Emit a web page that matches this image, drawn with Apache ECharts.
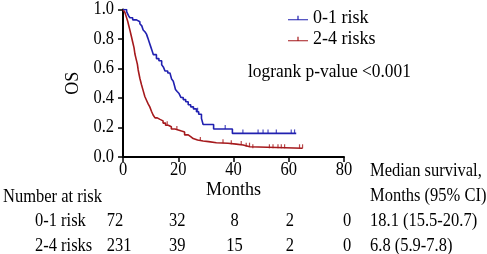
<!DOCTYPE html>
<html>
<head>
<meta charset="utf-8">
<script src="https://cdn.jsdelivr.net/npm/echarts@6/dist/echarts.min.js"></script>
<style>
  html, body { margin: 0; padding: 0; background: #fff; }
  #chart { width: 487px; height: 254px; }
</style>
</head>
<body>
<div id="chart"></div>
<script>
// survival curves (months, OS)
var lowTimes = [0, 1.3, 2, 2.5, 3.5, 4.9, 6.1, 6.8, 7.3, 8, 8.5, 9, 9.5, 10, 10.5, 11, 12.1, 13, 14, 14.6, 15.2, 16.2, 17, 17.6, 18.2, 18.6, 19, 19.6, 20.3, 21, 21.8, 22.7, 23.6, 24.5, 25.5, 26.6, 27.4, 28.4, 29, 32.8, 39.6, 62.7];
var lowSurv = [1.0, 0.986, 0.958, 0.944, 0.93, 0.917, 0.903, 0.889, 0.861, 0.847, 0.833, 0.806, 0.778, 0.75, 0.722, 0.694, 0.667, 0.653, 0.625, 0.611, 0.583, 0.569, 0.556, 0.528, 0.514, 0.486, 0.458, 0.444, 0.43, 0.403, 0.389, 0.375, 0.354, 0.34, 0.326, 0.307, 0.29, 0.262, 0.22, 0.19, 0.16, 0.16];
var highTimes = [0, 0.7, 1.2, 1.7, 2.1, 2.5, 3, 3.5, 4, 4.3, 4.8, 5.2, 5.5, 6.1, 6.7, 7.3, 7.9, 8.5, 9.1, 9.7, 10.3, 10.9, 11.6, 12.4, 13.4, 14.5, 15.4, 16.4, 17.5, 18.8, 20, 21.2, 22.3, 23.6, 24.5, 25.4, 27, 29, 31, 33.8, 38, 41, 43.5, 45.9, 65];
var highSurv = [1.0, 0.98, 0.95, 0.92, 0.89, 0.86, 0.82, 0.78, 0.74, 0.70, 0.66, 0.63, 0.59, 0.534, 0.49, 0.45, 0.41, 0.385, 0.36, 0.34, 0.31, 0.285, 0.265, 0.255, 0.245, 0.23, 0.215, 0.205, 0.19, 0.183, 0.176, 0.17, 0.15, 0.138, 0.125, 0.115, 0.108, 0.104, 0.097, 0.093, 0.087, 0.081, 0.07, 0.059, 0.059];
// censored observations (months)
var lowCensor = [27, 37, 43.4, 48.9, 50.7, 52.5, 55.5, 60.9, 62.1];
var highCensor = [16, 19.5, 28, 36.2, 39.2, 42.8, 44.6, 45.8, 47, 53, 54.3, 56.1, 57.3, 58.5, 63.9, 65];

var groupNames = ['0-1 risk', '2-4 risks'];
var xTicks = [0, 20, 40, 60, 80];
var yTicks = [0, 0.2, 0.4, 0.6, 0.8, 1.0];
var lowAtRisk = [72, 32, 8, 2, 0];
var highAtRisk = [231, 39, 15, 2, 0];
var medianText = ['18.1 (15.5-20.7)', '6.8 (5.9-7.8)'];

var blue = '#2020b0';
var red = '#a5191c';
var font = 'Liberation Serif';

function zip(t, s) {
	var out = [];
	for (var i = 0; i < t.length; i++) out.push([t[i], s[i]]);
	return out;
}
function survAt(t, times, surv) {
	var v = surv[0];
	for (var i = 0; i < times.length; i++) {
		if (times[i] <= t) v = surv[i];
	}
	return v;
}
function censorPts(c, times, surv) {
	return c.map(function (t) { return [t, survAt(t, times, surv)]; });
}

var tickMark = 'path://M0,0L1,0L1,1L0,1Z';

var myChart = echarts.init(document.getElementById('chart'));
var option = {
	animation: false,
	textStyle: { fontFamily: font },
	grid: { left: 123, right: 143, top: 9.5, bottom: 97 },
	legend: {
		data: groupNames,
		orient: 'vertical',
		left: 283,
		top: 4,
		itemWidth: 20,
		itemHeight: 6,
		itemGap: 3,
		icon: 'path://M0,5L20,5L20,6.2L0,6.2Z M9.4,1.5L10.6,1.5L10.6,5L9.4,5Z',
		textStyle: { fontFamily: font, fontSize: 18, color: '#000' }
	},
	xAxis: {
		type: 'value',
		min: 0,
		max: 80,
		interval: 20,
		name: 'Months',
		nameLocation: 'middle',
		nameGap: 24,
		nameTextStyle: { fontFamily: font, fontSize: 18, color: '#000' },
		axisLine: { lineStyle: { color: '#000', width: 2 } },
		axisTick: { length: 5, lineStyle: { color: '#000', width: 1.5 } },
		axisLabel: { show: false },
		splitLine: { show: false }
	},
	yAxis: {
		type: 'value',
		min: 0,
		max: 1,
		interval: 0.2,
		name: 'OS',
		nameLocation: 'middle',
		nameGap: 41,
		nameRotate: 90,
		nameTextStyle: { fontFamily: font, fontSize: 18, color: '#000' },
		axisLine: { show: true, lineStyle: { color: '#000', width: 2 } },
		axisTick: { show: true, length: 5, lineStyle: { color: '#000', width: 1.5 } },
		axisLabel: { show: false },
		splitLine: { show: false }
	},
	series: [
		{
			name: groupNames[0], type: 'line', step: 'end', symbol: 'none',
			data: zip(lowTimes, lowSurv),
			lineStyle: { color: blue, width: 1.6 }, itemStyle: { color: blue }, z: 3
		},
		{
			name: groupNames[1], type: 'line', step: 'end', symbol: 'none',
			data: zip(highTimes, highSurv),
			lineStyle: { color: red, width: 1.6 }, itemStyle: { color: red }, z: 2
		},
		{
			name: 'censor-low', type: 'scatter', symbol: tickMark, symbolSize: [1.2, 4],
			symbolOffset: [0, -2], data: censorPts(lowCensor, lowTimes, lowSurv),
			itemStyle: { color: blue }, silent: true
		},
		{
			name: 'censor-high', type: 'scatter', symbol: tickMark, symbolSize: [1.2, 4],
			symbolOffset: [0, -2], data: censorPts(highCensor, highTimes, highSurv),
			itemStyle: { color: red }, silent: true
		}
	]
};
myChart.setOption(option);

// tick labels, number-at-risk table and side notes (text drawn a bit taller, like the source)
function txt(x, y, s, align, size) {
	return {
		type: 'text', x: x, y: y, scaleY: 1.13,
		style: { text: s, fontFamily: font, fontSize: size || 16.5, fill: '#000',
			align: align || 'left', verticalAlign: 'middle' }
	};
}
var colNudge = [-8, -1, 1, 1, 3];
var els = [];
for (var k = 0; k < yTicks.length; k++) {
	var py = myChart.convertToPixel({ yAxisIndex: 0 }, yTicks[k]);
	els.push(txt(114, py, yTicks[k].toFixed(1), 'right'));
}
for (var j = 0; j < xTicks.length; j++) {
	var pxx = myChart.convertToPixel({ xAxisIndex: 0 }, xTicks[j]);
	els.push(txt(pxx, 170, String(xTicks[j]), 'center'));
}
els.push(txt(248, 72, 'logrank p-value <0.001', 'left', 17.4));
els.push(txt(3, 197, 'Number at risk'));
els.push(txt(370, 171, 'Median survival,'));
els.push(txt(370, 196, 'Months (95% CI)'));
els.push(txt(35, 221, groupNames[0]));
els.push(txt(35, 246, groupNames[1]));
for (var i = 0; i < xTicks.length; i++) {
	var px = myChart.convertToPixel({ xAxisIndex: 0 }, xTicks[i]) + colNudge[i];
	els.push(txt(px, 221, String(lowAtRisk[i]), 'center'));
	els.push(txt(px + (i === 0 ? 4 : 0), 246, String(highAtRisk[i]), 'center'));
}
els.push(txt(370, 221, medianText[0]));
els.push(txt(370, 246, medianText[1]));
myChart.setOption({ graphic: els });
</script>
</body>
</html>
